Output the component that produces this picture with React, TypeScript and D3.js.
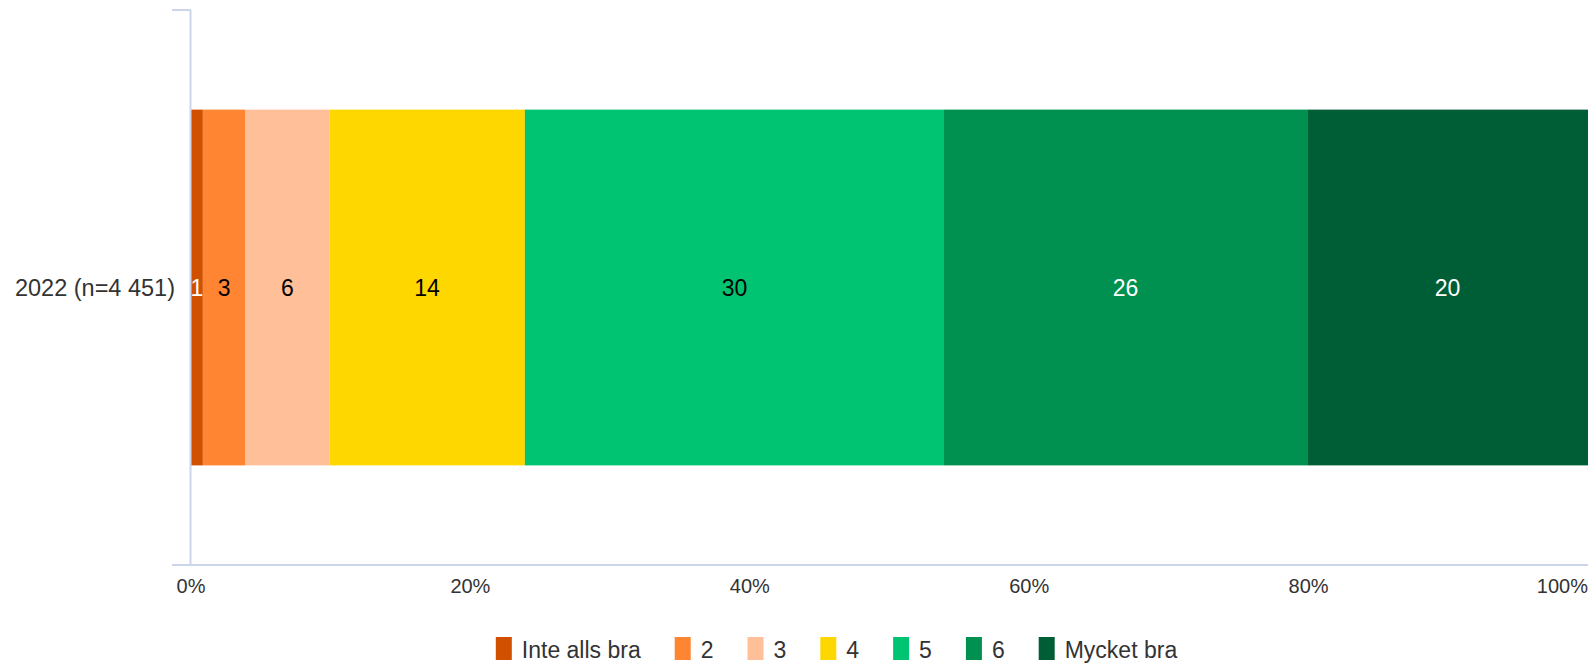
import { useEffect, useRef } from "react";
import * as d3 from "d3";

const categories = ["2022 (n=4 451)"];
const seriesNames = ["Inte alls bra", "2", "3", "4", "5", "6", "Mycket bra"];
const seriesValues = [0.85, 3.05, 6.0, 14.0, 30.0, 26.0, 20.1];
const seriesLabels = ["1", "3", "6", "14", "30", "26", "20"];
const seriesColors = ["#d05000", "#ff8533", "#ffbf99", "#ffd700", "#00c471", "#009150", "#005e37"];
const labelColors = ["#ffffff", "#000000", "#000000", "#000000", "#000000", "#ffffff", "#ffffff"];
const xTicks = [0, 20, 40, 60, 80, 100];

const W = 1593;
const H = 665;
const FONT = "'Liberation Sans', Arial, sans-serif";

export default function App() {
  const ref = useRef<SVGSVGElement>(null);

  useEffect(() => {
    const svg = d3.select(ref.current!);
    svg.selectAll("*").remove();

    const margin = { top: 10, right: 5, bottom: 100, left: 191 };
    const x = d3.scaleLinear().domain([0, 100]).range([margin.left, W - margin.right]);
    const y = d3
      .scaleBand()
      .domain(categories)
      .range([margin.top, H - margin.bottom])
      .paddingInner(0)
      .paddingOuter(0.28);

    const stacked = categories.map((c) => {
      let acc = 0;
      return seriesValues.map((v, i) => {
        const s = { cat: c, i, x0: acc, x1: acc + v };
        acc += v;
        return s;
      });
    });

    const g = svg.append("g");

    // bars
    stacked.forEach((row) => {
      row.forEach((d) => {
        g.append("rect")
          .attr("x", x(d.x0))
          .attr("width", x(d.x1) - x(d.x0))
          .attr("y", y(d.cat)!)
          .attr("height", y.bandwidth())
          .attr("fill", seriesColors[d.i]);
        g.append("text")
          .attr("x", (x(d.x0) + x(d.x1)) / 2)
          .attr("y", y(d.cat)! + y.bandwidth() / 2)
          .attr("dy", "0.36em")
          .attr("text-anchor", "middle")
          .attr("font-family", FONT)
          .attr("font-size", 23)
          .attr("fill", labelColors[d.i])
          .text(seriesLabels[d.i]);
      });
    });

    const axisColor = "#ccd6eb";
    const [top, bottom] = y.range();
    // category axis line
    svg.append("line")
      .attr("x1", margin.left - 0.5).attr("x2", margin.left - 0.5)
      .attr("y1", top).attr("y2", bottom)
      .attr("stroke", axisColor).attr("stroke-width", 2);
    // category ticks at band edges
    [top, bottom].forEach((ty) => {
      svg.append("line")
        .attr("x1", margin.left - 19).attr("x2", margin.left)
        .attr("y1", ty).attr("y2", ty)
        .attr("stroke", axisColor).attr("stroke-width", 2);
    });
    // value axis line
    svg.append("line")
      .attr("x1", margin.left).attr("x2", W - margin.right)
      .attr("y1", bottom).attr("y2", bottom)
      .attr("stroke", axisColor).attr("stroke-width", 2);

    // category labels
    categories.forEach((c) => {
      svg.append("text")
        .attr("x", margin.left - 16)
        .attr("y", y(c)! + y.bandwidth() / 2)
        .attr("dy", "0.36em")
        .attr("text-anchor", "end")
        .attr("font-family", FONT)
        .attr("font-size", 23.5)
        .attr("fill", "#333333")
        .text(c);
    });

    // value tick labels
    xTicks.forEach((t, i) => {
      const anchor = i === xTicks.length - 1 ? "end" : "middle";
      svg.append("text")
        .attr("x", x(t))
        .attr("y", bottom + 28)
        .attr("text-anchor", anchor)
        .attr("font-family", FONT)
        .attr("font-size", 20)
        .attr("fill", "#333333")
        .text(`${t}%`);
    });

    // legend
    const legend = svg.append("g");
    let lx = 0;
    const symW = 16;
    const symH = 23;
    const gap = 34;
    seriesNames.forEach((name, i) => {
      const item = legend.append("g").attr("transform", `translate(${lx},0)`);
      item.append("rect")
        .attr("x", 0).attr("y", -symH + 2)
        .attr("width", symW).attr("height", symH)
        .attr("fill", seriesColors[i]);
      const t = item.append("text")
        .attr("x", symW + 10)
        .attr("y", 0)
        .attr("font-family", FONT)
        .attr("font-size", 23)
        .attr("fill", "#333333")
        .text(name);
      const tw = (t.node() as SVGTextElement).getComputedTextLength();
      lx += symW + 10 + tw + gap;
    });
    const legendW = lx - gap;
    legend.attr("transform", `translate(${W / 2 + 40 - legendW / 2},658)`);
  }, []);

  return (
    <svg ref={ref} width={W} height={H} style={{ display: "block", position: "absolute", left: 0, top: 0, background: "#fff" }} />
  );
}
